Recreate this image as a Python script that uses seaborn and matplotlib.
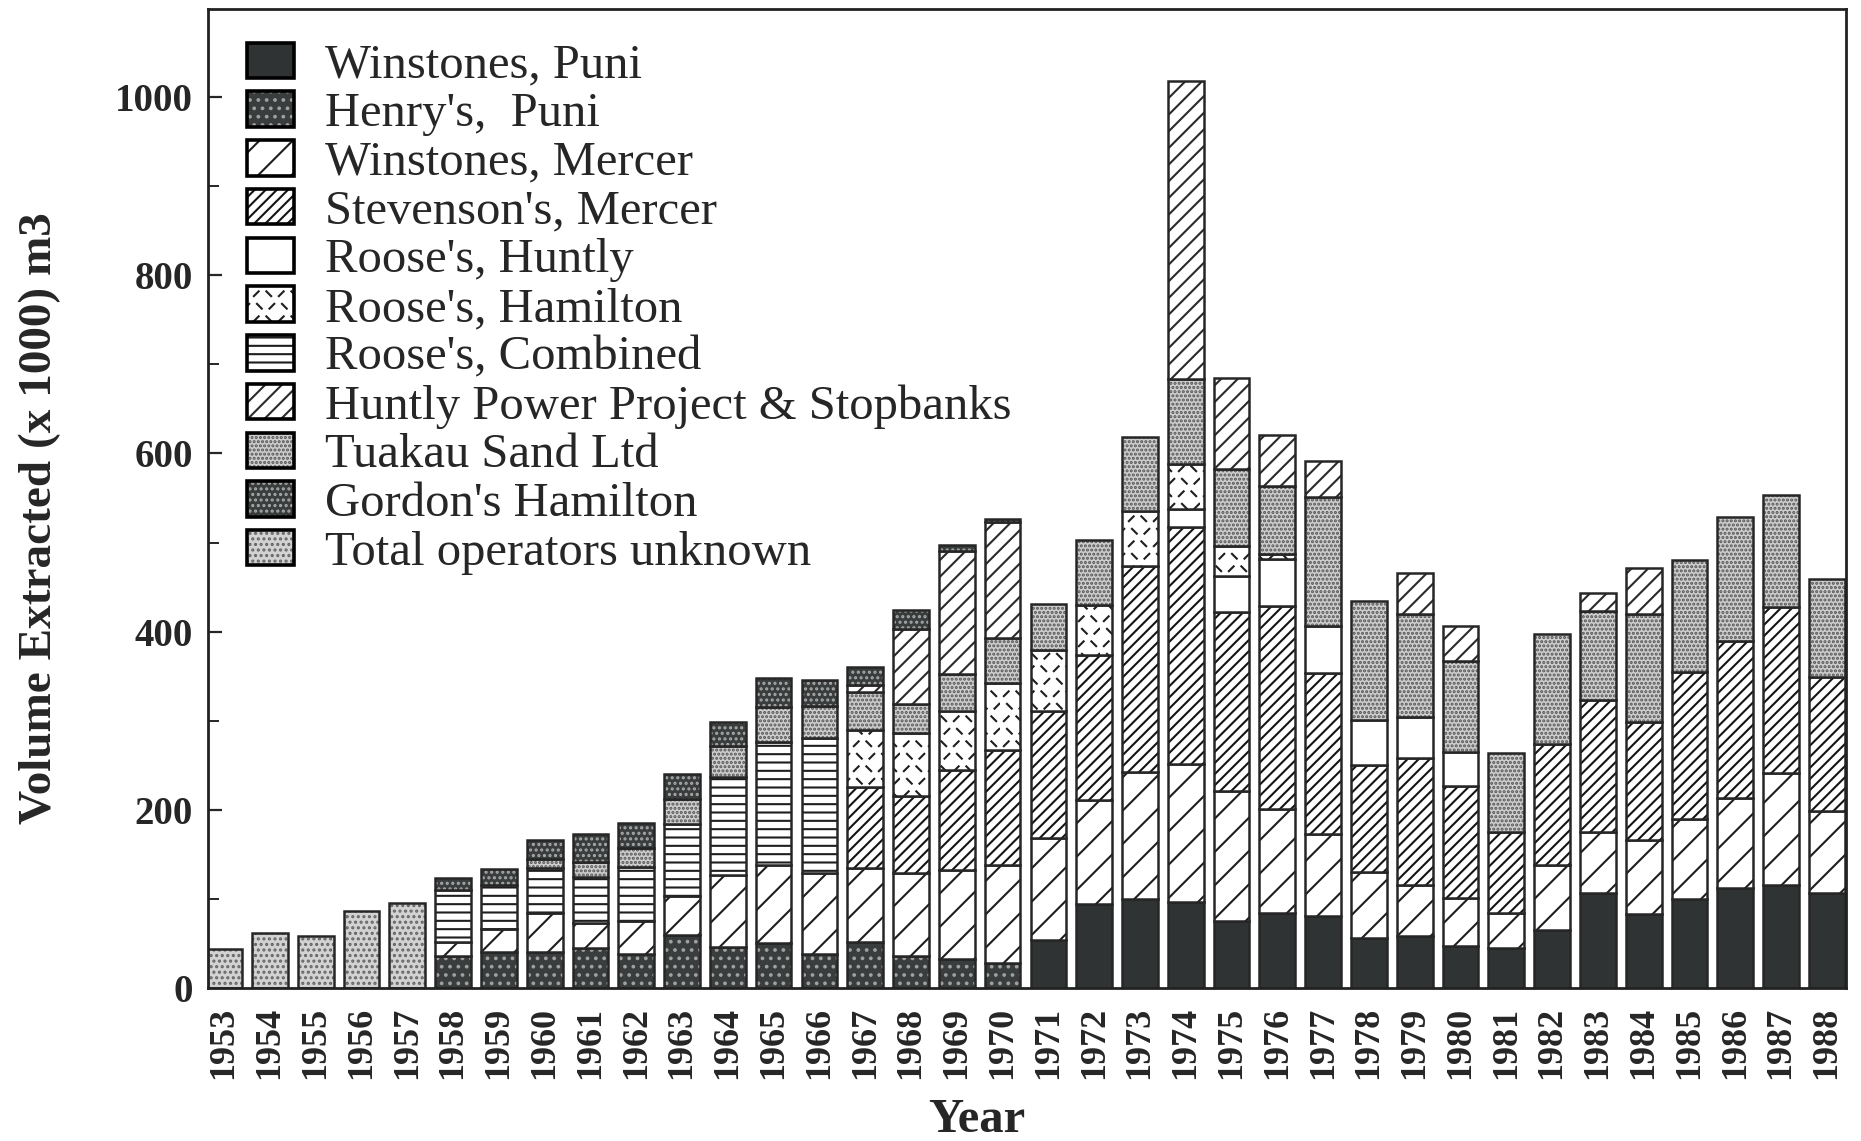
import numpy as np
import pandas as pd
import matplotlib
matplotlib.use("Agg")
import matplotlib.pyplot as plt
import matplotlib.hatch as mhatch
from matplotlib.path import Path
from matplotlib.patches import Patch
from matplotlib.legend_handler import HandlerTuple
import seaborn as sns

# volumes extracted, thousand m3, 1953-1988
years = list(range(1953, 1989))

winstones_puni = [0]*18 + [54, 95, 100, 97, 76, 85, 81, 57, 59, 48, 45, 65, 107, 84, 100, 113, 116, 107]
henrys_puni = [0]*5 + [36, 41, 41, 45, 39, 60, 47, 51, 39, 52, 36, 33, 28] + [0]*18
winstones_mercer = [0]*5 + [16, 26, 44, 28, 37, 44, 80, 87, 91, 83, 93, 100, 111, 115, 116, 143, 155,
                            146, 116, 92, 74, 57, 54, 40, 73, 68, 83, 90, 101, 126, 92]
stevensons_mercer = [0]*14 + [91, 87, 112, 128, 142, 163, 231, 266, 200, 228, 181, 120, 142, 125, 91,
                              136, 148, 132, 165, 176, 186, 150]
roose_huntly = [0]*21 + [20, 41, 53, 52, 50, 47, 38] + [0]*8
roose_hamilton = [0]*14 + [64, 70, 66, 76, 69, 56, 61, 50, 33, 5] + [0]*12
roose_combined = [0]*5 + [58, 49, 50, 52, 60, 81, 110, 138, 151] + [0]*22
huntly_power = [0]*14 + [8, 84, 138, 130, 0, 0, 0, 335, 102, 58, 41, 0, 46, 40, 0, 0, 21, 52, 0, 0, 0, 0]
tuakau_sand = [0]*7 + [10, 17, 21, 27, 35, 40, 36, 42, 33, 42, 50, 51, 73, 84, 95, 87, 76, 145, 133,
                       115, 102, 88, 124, 100, 121, 126, 139, 126, 110]
gordons_hamilton = [0]*5 + [14, 18, 22, 31, 29, 28, 27, 32, 29, 21, 21, 6, 4] + [0]*18
operators_unknown = [44, 62, 59, 87, 96] + [0]*31

df = pd.DataFrame({
    "Winstones, Puni": winstones_puni,
    "Henry's,  Puni": henrys_puni,
    "Winstones, Mercer": winstones_mercer,
    "Stevenson's, Mercer": stevensons_mercer,
    "Roose's, Huntly": roose_huntly,
    "Roose's, Hamilton": roose_hamilton,
    "Roose's, Combined": roose_combined,
    "Huntly Power Project & Stopbanks": huntly_power,
    "Tuakau Sand Ltd": tuakau_sand,
    "Gordon's Hamilton": gordons_hamilton,
    "Total operators unknown": operators_unknown,
}, index=years)


# short scattered dashes for the Roose's Hamilton fill, hooked onto the '*' hatch symbol
class DashHatch(mhatch.HatchPatternBase):
    grid = 8
    half = 0.024

    def __init__(self, hatch, density):
        self.on = hatch.count("*") > 0
        self.num_vertices = 2 * self.grid * self.grid if self.on else 0

    def set_vertices_and_codes(self, vertices, codes):
        k = 0
        for i in range(self.grid):
            for j in range(self.grid):
                cx = (i + 0.5 + 0.25 * (j % 2)) / self.grid
                cy = (j + 0.5) / self.grid
                d = self.half if (i + j) % 2 == 0 else -self.half
                vertices[k] = (cx - self.half, cy - d)
                vertices[k + 1] = (cx + self.half, cy + d)
                codes[k] = Path.MOVETO
                codes[k + 1] = Path.LINETO
                k += 2


mhatch._hatch_types = [t for t in mhatch._hatch_types if t is not mhatch.Stars] + [DashHatch]

# face colour, hatch, hatch colour
styles = {
    "Winstones, Puni": ("#2f3333", "", "#2f3333"),
    "Henry's,  Puni": ("#3a3d3d", "..", "#a0a0a0"),
    "Winstones, Mercer": ("white", "/", "#1e1e1e"),
    "Stevenson's, Mercer": ("white", "///", "#141414"),
    "Roose's, Huntly": ("white", "", "white"),
    "Roose's, Hamilton": ("white", "*", "#1e1e1e"),
    "Roose's, Combined": ("white", "--", "#1e1e1e"),
    "Huntly Power Project & Stopbanks": ("white", "//", "#2a2a2a"),
    "Tuakau Sand Ltd": ("#cdcdcd", "....", "#555555"),
    "Gordon's Hamilton": ("#3a3d3d", "...", "#a8a8a8"),
    "Total operators unknown": ("#d2d2d2", "...", "#666666"),
}
stack_order = ["Winstones, Puni", "Henry's,  Puni", "Winstones, Mercer", "Stevenson's, Mercer",
               "Roose's, Huntly", "Roose's, Hamilton", "Roose's, Combined", "Tuakau Sand Ltd",
               "Huntly Power Project & Stopbanks", "Gordon's Hamilton", "Total operators unknown"]

sns.set_style("ticks")
plt.rcParams["font.family"] = ["Liberation Serif", "DejaVu Serif"]
plt.rcParams["hatch.linewidth"] = 1.5

edge = "#262626"
fig = plt.figure(figsize=(18.61, 11.41), dpi=100)
ax = fig.add_axes([0.1118, 0.1337, 0.8802, 0.858])

x = np.arange(len(years))
width = 0.78
bottom = np.zeros(len(years))
for name in stack_order:
    vals = df[name].to_numpy(dtype=float)
    face, hatch, hcol = styles[name]
    m = vals > 0
    ax.bar(x[m], vals[m], width, bottom=bottom[m], color=face, hatch=hatch,
           edgecolor=hcol, linewidth=0)
    ax.bar(x[m], vals[m], width, bottom=bottom[m], fill=False,
           edgecolor=edge, linewidth=1.8)
    bottom += vals

handles = []
for name in df.columns:
    face, hatch, hcol = styles[name]
    handles.append((Patch(facecolor=face, hatch=hatch, edgecolor=hcol, linewidth=0),
                    Patch(fill=False, edgecolor="black", linewidth=2.6)))
ax.legend(handles, list(df.columns), handler_map={tuple: HandlerTuple(ndivide=1)},
          loc="upper left", bbox_to_anchor=(0.0238, 0.966), frameon=False,
          fontsize=35, labelspacing=0.085, handlelength=0.97, handleheight=0.74,
          handletextpad=0.64, borderpad=0, borderaxespad=0)

ax.set_xlim(-0.35, 35.42)
ax.set_ylim(0, 1098)
ax.set_yticks(range(0, 1001, 200))
ax.set_yticks(range(100, 1000, 200), minor=True)
ax.set_yticklabels([str(v) for v in range(0, 1001, 200)], fontweight="bold", fontsize=28)
ax.tick_params(axis="y", which="major", direction="in", length=10, width=1.6, pad=11)
ax.tick_params(axis="y", which="minor", direction="in", length=8, width=1.4)
ax.set_xticks(x)
ax.set_xticklabels([str(y) for y in years], rotation=90, fontweight="bold", fontsize=26)
ax.tick_params(axis="x", length=0, pad=13)

for s in ax.spines.values():
    s.set_linewidth(2)
    s.set_color("#222222")

ax.set_ylabel("Volume Extracted (x 1000) m3", fontsize=34, fontweight="bold")
ax.yaxis.set_label_coords(-0.09, 0.48)
ax.set_xlabel("Year", fontsize=35, fontweight="bold")
ax.xaxis.set_label_coords(0.469, -0.112)

fig.savefig("out.png", dpi=100, facecolor="white")
